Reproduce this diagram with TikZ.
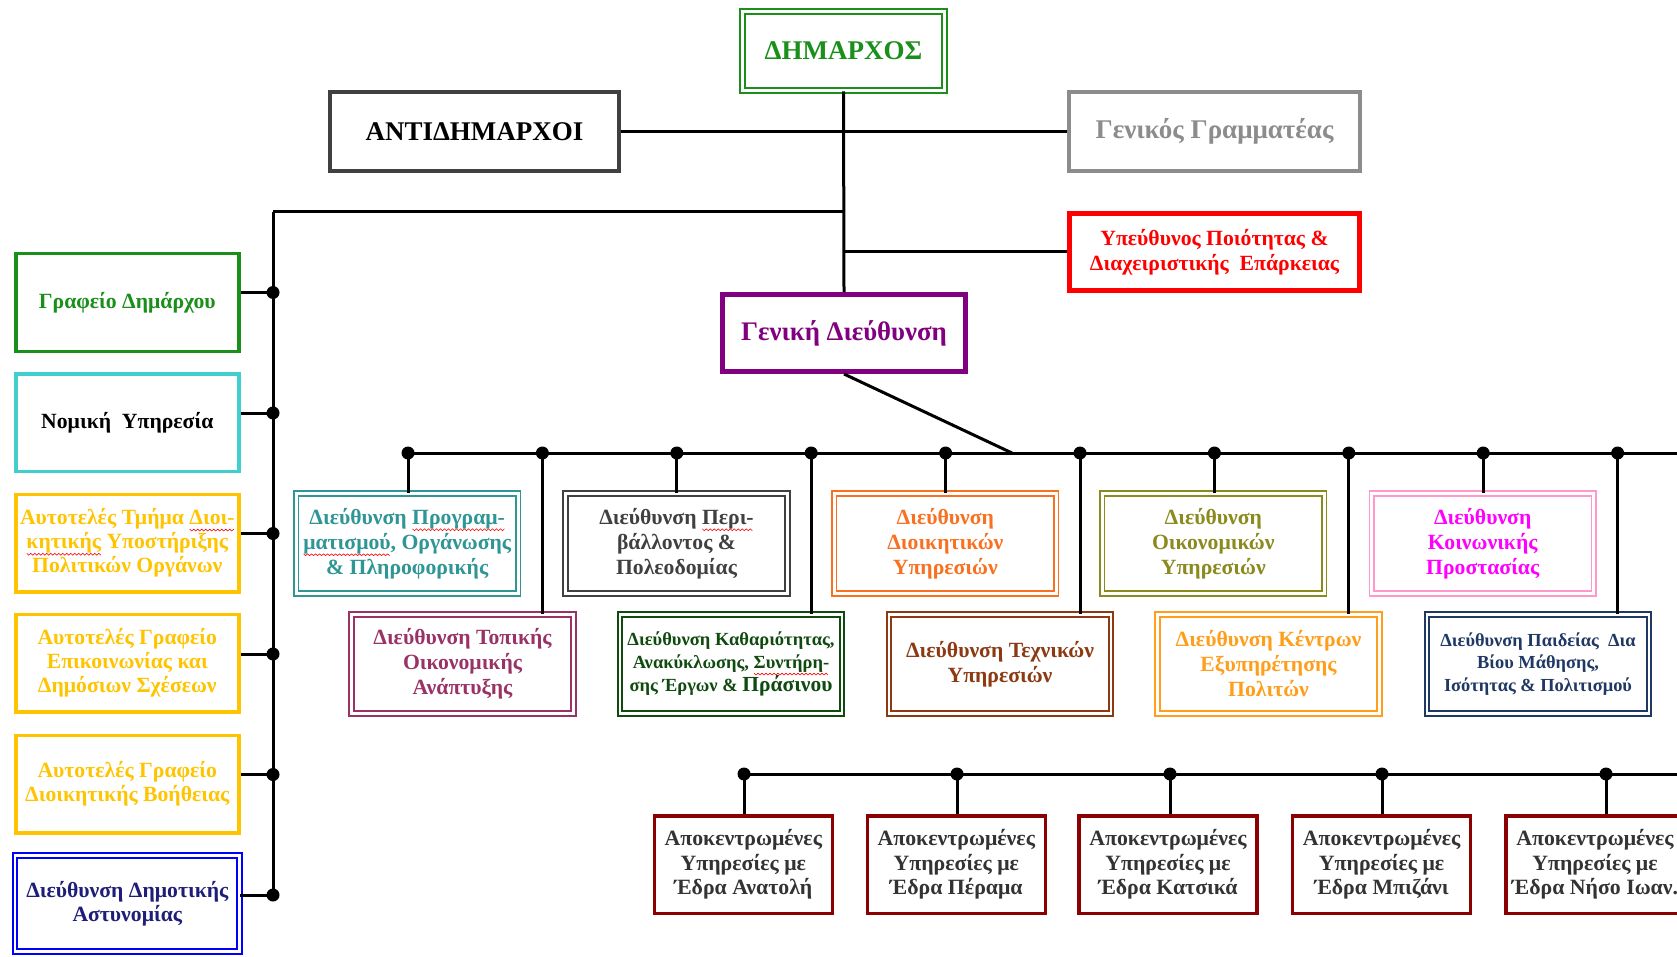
\documentclass[tikz,border=0pt]{standalone}
\usepackage{fontspec}
\setmainfont{Liberation Serif}
\newcommand\rwave[1]{%
  \setbox0=\hbox{#1}%
  \leavevmode\rlap{\begin{pgfpicture}%
    \pgfsetbaseline{0pt}%
    \pgfsetlinewidth{0.6pt}%
    \pgfsetstrokecolor{red}%
    \pgfmathtruncatemacro\rwn{\wd0/2}%
    \pgfpathmoveto{\pgfpoint{0pt}{-4.6pt}}%
    \foreach \k in {1,...,\rwn}{\pgfpathlineto{\pgfpoint{\k*2pt}{ifthenelse(isodd(\k),-6.4,-4.6)}}}%
    \pgfusepath{stroke}%
  \end{pgfpicture}}%
  \box0\relax}
\definecolor{cgreen}{HTML}{1A8F1A}
\definecolor{canti}{HTML}{404040}
\definecolor{cgray}{HTML}{8C8C8C}
\definecolor{cred}{HTML}{FF0000}
\definecolor{cpurple}{HTML}{800080}
\definecolor{cteal}{HTML}{2F9595}
\definecolor{cdark}{HTML}{404040}
\definecolor{corange}{HTML}{F97120}
\definecolor{colive}{HTML}{8A8A1E}
\definecolor{cpink}{HTML}{FF99CC}
\definecolor{cmag}{HTML}{FF00FF}
\definecolor{cplum}{HTML}{993366}
\definecolor{cdgreen}{HTML}{0F4A0F}
\definecolor{cbrown}{HTML}{8B3A12}
\definecolor{camber}{HTML}{FF9E1A}
\definecolor{cnavy}{HTML}{1F3864}
\definecolor{cturq}{HTML}{3FCFCF}
\definecolor{cyel}{HTML}{FFC400}
\definecolor{cblue}{HTML}{0000FF}
\definecolor{cpolice}{HTML}{1E1E78}
\definecolor{cdred}{HTML}{8B0000}
\definecolor{cdtext}{HTML}{333333}
\tikzset{
  box/.style={rectangle, inner sep=0pt, align=center, font=\bfseries\fontsize{21.7}{25}\selectfont},
  sbox/.style={box, draw=#1, line width=3.5pt},
  dbox/.style={box, draw=#1, line width=1.8pt, double=white, double distance=2.6pt},
  bigtext/.style={font=\bfseries\fontsize{27}{32}\selectfont},
  conn/.style={line width=3pt, draw=black},
  toprow/.style={minimum width=222pt, minimum height=100pt},
  botrow/.style={minimum width=222pt, minimum height=99pt},
  leftbox/.style={minimum width=223pt, minimum height=97.5pt, font=\bfseries\fontsize{21.7}{24.2}\selectfont},
  apbox/.style={sbox=cdred, text=cdtext, minimum width=178pt, minimum height=97.5pt, font=\bfseries\fontsize{21.8}{24.6}\selectfont},
}
\begin{document}
\begin{tikzpicture}[x=1pt,y=-1pt]
\useasboundingbox (0,0) rectangle (1677,957);
\clip (0,0) rectangle (1677,957);
\fill[white] (0,0) rectangle (1677,957);

% top level
\node[dbox=cgreen, text=cgreen, bigtext, minimum width=202pt, minimum height=79pt] (dem) at (843.5,51) {ΔΗΜΑΡΧΟΣ};
\node[sbox=canti, text=black, bigtext, line width=4pt, minimum width=289pt, minimum height=79pt] (anti) at (474.5,131.5) {ΑΝΤΙΔΗΜΑΡΧΟΙ};
\node[sbox=cgray, text=cgray, bigtext, line width=4pt, minimum width=291pt, minimum height=79pt] (gg) at (1214.5,131.5) {Γενικός Γραμματέας};
\node[sbox=cred, text=cred, line width=5pt, minimum width=290pt, minimum height=77pt, font=\bfseries\fontsize{21.7}{24.8}\selectfont] (ypq) at (1214.5,252) {Υπεύθυνος Ποιότητας \&\\Διαχειριστικής\ \ Επάρκειας};
\node[sbox=cpurple, text=cpurple, line width=5pt, minimum width=243pt, minimum height=77pt, font=\bfseries\fontsize{26.8}{30}\selectfont] (gd) at (844,333) {Γενική Διεύθυνση};

\coordinate (jA) at (844,212);
\coordinate (jQ) at (844,252);
\coordinate (ltop) at (273,212);
\draw[conn] (dem.south) -- (gd.north);
\draw[conn] (anti.east) -- (gg.west);
\draw[conn] (ltop) -- (jA);
\draw[conn] (jQ) -- (ypq.west);

% main bus
\coordinate (bus0) at (408,453);
\coordinate (busE) at (1680,453);
\coordinate (diag) at (1012,453);
\draw[conn] (bus0) -- (busE);
\draw[conn] (gd.south) -- (diag);

\foreach \i/\x in {0/408,1/542.4,2/676.8,3/811.2,4/945.6,5/1080,6/1214.4,7/1348.8,8/1483.2,9/1617.6}
  \coordinate (p\i) at (\x,453);

% top row
\node[dbox=cteal, text=cteal, toprow] (dA) at (407.2,543.5) {Διεύθυνση \rwave{Προγραμ-}\\\rwave{ματισμού}, Οργάνωσης\\\& Πληροφορικής};
\node[dbox=cdark, text=cdark, toprow] (dB) at (676.5,543.5) {Διεύθυνση \rwave{Περι-}\\βάλλοντος \&\\Πολεοδομίας};
\node[dbox=corange, text=corange, toprow] (dC) at (945.3,543.5) {Διεύθυνση\\Διοικητικών\\Υπηρεσιών};
\node[dbox=colive, text=colive, toprow] (dD) at (1213.3,543.5) {Διεύθυνση\\Οικονομικών\\Υπηρεσιών};
\node[dbox=cpink, text=cmag, toprow] (dE) at (1482.7,543.5) {Διεύθυνση\\Κοινωνικής\\Προστασίας};

% bottom row
\node[dbox=cplum, text=cplum, botrow] (dF) at (462.5,664) {Διεύθυνση Τοπικής\\Οικονομικής\\Ανάπτυξης};
\node[dbox=cdgreen, text=cdgreen, botrow, font=\bfseries\fontsize{18.5}{22.8}\selectfont] (dG) at (731,664) {Διεύθυνση Καθαριότητας,\\Ανακύκλωσης, \rwave{Συντήρη-}\\σης Έργων \& {\fontsize{21.5}{22.8}\selectfont Πράσινου}};
\node[dbox=cbrown, text=cbrown, botrow] (dH) at (1000,664) {Διεύθυνση Τεχνικών\\Υπηρεσιών};
\node[dbox=camber, text=camber, botrow] (dI) at (1268.5,664) {Διεύθυνση Κέντρων\\Εξυπηρέτησης\\Πολιτών};
\node[dbox=cnavy, text=cnavy, botrow, font=\bfseries\fontsize{18.4}{22.5}\selectfont] (dJ) at (1538,664) {Διεύθυνση Παιδείας\ \ Δια\\Βίου Μάθησης,\\Ισότητας \& Πολιτισμού};

\foreach \i/\n in {0/dA,2/dB,4/dC,6/dD,8/dE,1/dF,3/dG,5/dH,7/dI,9/dJ}
  \draw[conn] (p\i) -- (p\i |- \n.north);
\foreach \i in {0,...,9}
  \fill (p\i) circle (6.5pt);

% left column
\coordinate (lbot) at (273,895);
\draw[conn] (ltop) -- (lbot);
\foreach \i/\y in {1/292.5,2/413,3/533.5,4/654,5/774.5,6/895}
  \coordinate (l\i) at (273,\y);

\node[sbox=cgreen, text=cgreen, leftbox] (gdm) at (127.3,302.5) {Γραφείο Δημάρχου};
\node[sbox=cturq, text=black, leftbox] (nom) at (127.3,422.5) {Νομική\ \ Υπηρεσία};
\node[sbox=cyel, text=cyel, leftbox] (yA) at (127.3,543) {Αυτοτελές Τμήμα \rwave{Διοι-}\\\rwave{κητικής} Υποστήριξης\\Πολιτικών Οργάνων};
\node[sbox=cyel, text=cyel, leftbox] (yB) at (127.3,663) {Αυτοτελές Γραφείο\\Επικοινωνίας και\\Δημόσιων Σχέσεων};
\node[sbox=cyel, text=cyel, leftbox] (yC) at (127.3,784) {Αυτοτελές Γραφείο\\Διοικητικής Βοήθειας};
\node[dbox=cblue, text=cpolice, leftbox, minimum width=224.5pt, minimum height=96pt] (ast) at (127.3,903.5) {Διεύθυνση Δημοτικής\\Αστυνομίας};

\foreach \i/\n in {1/gdm,2/nom,3/yA,4/yB,5/yC,6/ast}
  \draw[conn] (\n.east |- l\i) -- (l\i);
\foreach \i in {1,...,6}
  \fill (l\i) circle (6.5pt);

% decentralised services
\coordinate (b1) at (744,774);
\coordinate (b2) at (957,774);
\coordinate (b3) at (1170,774);
\coordinate (b4) at (1382,774);
\coordinate (b5) at (1606,774);
\coordinate (bE) at (1680,774);
\draw[conn] (b1) -- (bE);

\node[apbox] (ap1) at (743.3,864.5) {Αποκεντρωμένες\\Υπηρεσίες με\\Έδρα Ανατολή};
\node[apbox] (ap2) at (956.3,864.5) {Αποκεντρωμένες\\Υπηρεσίες με\\Έδρα Πέραμα};
\node[apbox] (ap3) at (1168,864.5) {Αποκεντρωμένες\\Υπηρεσίες με\\Έδρα Κατσικά};
\node[apbox] (ap4) at (1381.6,864.5) {Αποκεντρωμένες\\Υπηρεσίες με\\Έδρα Μπιζάνι};
\node[apbox] (ap5) at (1595,864.5) {Αποκεντρωμένες\\Υπηρεσίες με\\Έδρα Νήσο Ιωαν.};

\foreach \i in {1,...,5}
  \draw[conn] (b\i) -- (b\i |- ap\i.north);
\foreach \i in {1,...,5}
  \fill (b\i) circle (6.5pt);
\end{tikzpicture}
\end{document}
